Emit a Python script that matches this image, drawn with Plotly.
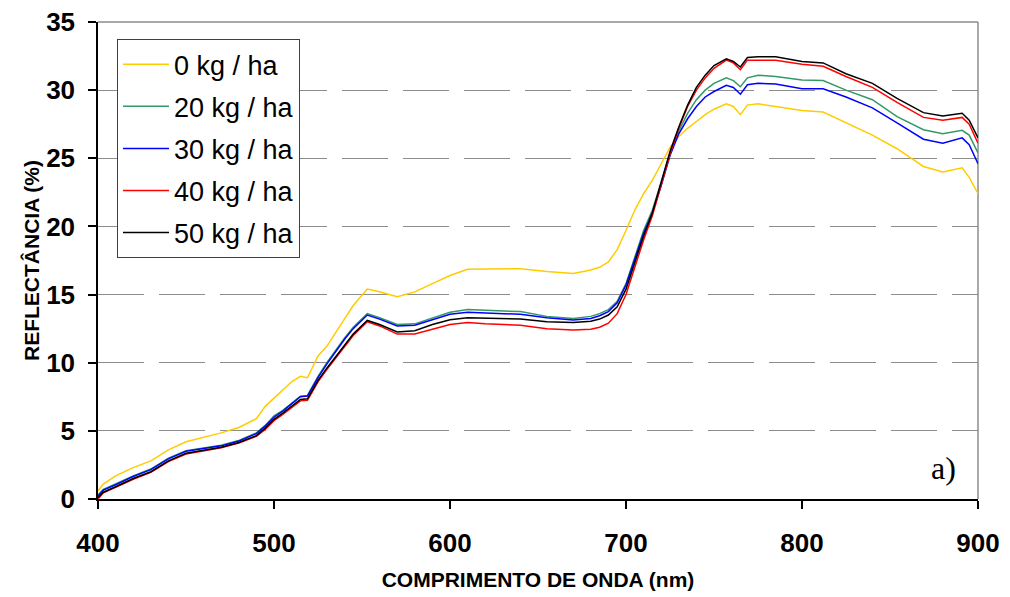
import plotly.graph_objects as go

wavelength = [400, 403, 410, 420, 430, 440, 450, 460, 470, 480, 490, 495, 500, 505, 510, 515, 519,
              525, 530, 540, 545, 553, 560, 570, 580, 590, 600, 610, 620, 640, 655, 670, 680, 685,
              690, 695, 700, 705, 710, 715, 720, 725, 730, 735, 740, 745, 750, 757, 761, 765, 769,
              775, 785, 800, 812, 825, 840, 854, 869, 880, 891, 895, 900]

r_0 = [0.6, 1.1, 1.7, 2.3, 2.8, 3.6, 4.2, 4.5, 4.85, 5.25, 5.9, 6.8, 7.4, 8.0, 8.6, 9.0, 8.9,
       10.5, 11.2, 13.2, 14.2, 15.4, 15.2, 14.85, 15.2, 15.8, 16.4, 16.85, 16.85, 16.9, 16.7, 16.55, 16.8, 17.0,
       17.4, 18.3, 19.7, 21.2, 22.4, 23.4, 24.6, 25.8, 26.6, 27.2, 27.7, 28.2, 28.6, 29.0, 28.8, 28.2, 28.9,
       29.0, 28.8, 28.5, 28.4, 27.6, 26.7, 25.7, 24.4, 24.0, 24.3, 23.6, 22.4]

r_20 = [0.3, 0.7, 1.1, 1.7, 2.2, 3.0, 3.55, 3.75, 3.95, 4.3, 4.85, 5.4, 6.1, 6.5, 7.0, 7.55, 7.6,
        9.0, 10.0, 11.8, 12.6, 13.6, 13.3, 12.8, 12.85, 13.3, 13.7, 13.9, 13.85, 13.75, 13.4, 13.25, 13.4, 13.6,
        13.9, 14.5, 15.8, 17.8, 19.7, 21.2, 23.2, 25.3, 27.0, 28.3, 29.3, 30.0, 30.5, 30.9, 30.7, 30.25, 30.9,
        31.1, 31.0, 30.75, 30.7, 30.0, 29.3, 28.05, 27.1, 26.8, 27.05, 26.7, 25.4]

r_30 = [0.2, 0.65, 1.05, 1.65, 2.15, 2.95, 3.5, 3.7, 3.9, 4.25, 4.8, 5.35, 6.0, 6.45, 6.95, 7.5, 7.55,
        8.9, 9.9, 11.7, 12.5, 13.5, 13.2, 12.7, 12.75, 13.15, 13.55, 13.7, 13.65, 13.55, 13.3, 13.13, 13.25, 13.45,
        13.75, 14.4, 15.7, 17.6, 19.5, 21.0, 23.0, 25.2, 26.8, 27.9, 28.8, 29.5, 29.9, 30.35, 30.2, 29.7, 30.4,
        30.5, 30.45, 30.1, 30.1, 29.5, 28.7, 27.6, 26.4, 26.1, 26.5, 26.0, 24.6]

r_40 = [0.0, 0.45, 0.85, 1.45, 1.95, 2.75, 3.3, 3.55, 3.75, 4.1, 4.6, 5.1, 5.75, 6.2, 6.7, 7.2, 7.25,
        8.6, 9.5, 11.2, 12.0, 13.0, 12.7, 12.1, 12.1, 12.45, 12.8, 12.95, 12.85, 12.75, 12.5, 12.4, 12.45, 12.6,
        12.9, 13.6, 15.0, 17.0, 19.0, 20.8, 23.0, 25.3, 27.2, 28.8, 30.0, 30.9, 31.6, 32.2, 32.0, 31.5, 32.2,
        32.2, 32.2, 31.9, 31.75, 31.0, 30.2, 29.1, 28.0, 27.8, 28.0, 27.5, 26.1]

r_50 = [0.1, 0.5, 0.9, 1.5, 2.0, 2.8, 3.35, 3.6, 3.8, 4.15, 4.65, 5.2, 5.85, 6.3, 6.8, 7.3, 7.35,
        8.7, 9.6, 11.3, 12.1, 13.1, 12.8, 12.25, 12.35, 12.8, 13.15, 13.3, 13.25, 13.2, 13.0, 12.95, 13.05, 13.2,
        13.5, 14.1, 15.4, 17.3, 19.3, 21.0, 23.2, 25.5, 27.3, 28.9, 30.2, 31.1, 31.8, 32.3, 32.1, 31.7, 32.4,
        32.45, 32.45, 32.1, 32.0, 31.2, 30.5, 29.4, 28.35, 28.1, 28.3, 27.8, 26.5]

series_names = ["0 kg / ha", "20 kg / ha", "30 kg / ha", "40 kg / ha", "50 kg / ha"]
series_values = [r_0, r_20, r_30, r_40, r_50]
series_colors = ["#FFCC00", "#339966", "#0000FF", "#FF0000", "#000000"]

x_ticks = [400, 500, 600, 700, 800, 900]
y_ticks = [0, 5, 10, 15, 20, 25, 30, 35]

fig = go.Figure()
for name, vals, col in zip(series_names, series_values, series_colors):
    fig.add_trace(go.Scatter(x=wavelength, y=vals, mode="lines", name=name,
                             legendgroup=name,
                             line=dict(color=col, width=1.5)))

font_family = "Liberation Sans, Arial, sans-serif"

fig.update_layout(
    width=1002, height=589,
    margin=dict(l=90, r=32, t=14, b=98, autoexpand=False),
    paper_bgcolor="white", plot_bgcolor="white",
    font=dict(family=font_family, color="black"),
    showlegend=True,
    legend=dict(x=0.0216, y=0.964, xanchor="left", yanchor="top",
                bgcolor="white", bordercolor="#404040", borderwidth=1,
                font=dict(size=27, family=font_family, color="black"),
                tracegroupgap=4, itemwidth=46),
    xaxis=dict(range=[400, 900], tickvals=x_ticks, showgrid=False, zeroline=False,
               automargin=False, ticklabeloverflow="allow",
               showline=True, linecolor="black", linewidth=1.5,
               ticks="outside", ticklen=8, tickcolor="black", tickwidth=1.5,
               ticklabelstandoff=12,
               tickfont=dict(size=26, weight="bold", family=font_family),
               title=dict(text="COMPRIMENTO DE ONDA (nm)", standoff=15,
                          font=dict(size=21, weight="bold", family=font_family))),
    yaxis=dict(range=[0, 35], tickvals=y_ticks, showgrid=True, gridcolor="#8c8c8c",
               griddash="46px,15px", gridwidth=1, zeroline=False,
               automargin=False, ticklabeloverflow="allow",
               showline=True, linecolor="black", linewidth=1.5,
               ticks="outside", ticklen=8, tickcolor="black", tickwidth=1.5,
               ticklabelstandoff=8,
               tickfont=dict(size=26, weight="bold", family=font_family),
               title=dict(text="REFLECTÂNCIA (%)", standoff=1,
                          font=dict(size=21, weight="bold", family=font_family))),
    shapes=[
        dict(type="line", xref="paper", yref="paper", x0=0, x1=1, y0=1, y1=1,
             line=dict(color="#8c8c8c", width=1.5), layer="below"),
        dict(type="line", xref="paper", yref="paper", x0=1, x1=1, y0=0, y1=1,
             line=dict(color="#8c8c8c", width=1.5), layer="below"),
    ],
    annotations=[
        dict(text="a)", xref="paper", yref="paper", x=0.961, y=0.065,
             xanchor="center", yanchor="middle", showarrow=False,
             font=dict(family="Liberation Serif, Times New Roman, serif", size=32, color="black"))
    ],
)

fig.write_html("out.html")
